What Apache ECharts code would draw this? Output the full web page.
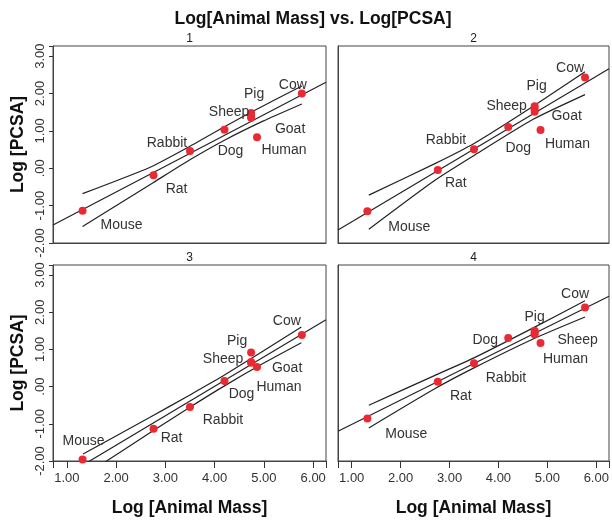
<!DOCTYPE html>
<html>
<head>
<meta charset="utf-8">
<script src="https://cdn.jsdelivr.net/npm/echarts@6/dist/echarts.min.js"></script>
<style>
  html, body { margin: 0; padding: 0; background: #fff; }
  #main { width: 612px; height: 520px; }
</style>
</head>
<body>
<div id="main"></div>
<script>
// animals and their log body mass (same in every panel)
const animals = ['Mouse', 'Rat', 'Rabbit', 'Dog', 'Sheep', 'Pig', 'Goat', 'Human', 'Cow'];
const logMass = [1.32, 2.76, 3.50, 4.20, 4.74, 4.74, 4.74, 4.86, 5.77];

// log PCSA, one array per panel
const pcsa1 = [-1.14, -0.19, 0.46, 1.03, 1.35, 1.48, 1.40, 0.83, 2.00];
const pcsa2 = [-1.15, -0.05, 0.51, 1.10, 1.51, 1.66, 1.58, 1.02, 2.43];
const pcsa3 = [-1.96, -1.13, -0.55, 0.15, 0.66, 0.92, 0.64, 0.53, 1.39];
const pcsa4 = [-0.86, 0.13, 0.63, 1.31, 1.40, 1.50, 1.45, 1.17, 2.13];

// fit line and mean confidence bands
const fit1 = [[0.72, -1.52], [6.26, 2.30]];
const upper1 = [[1.32, -0.68], [2.68, 0.02], [3.49, 0.58], [4.20, 1.11], [4.71, 1.48], [5.77, 2.20]];
const lower1 = [[1.32, -1.56], [2.76, -0.38], [3.49, 0.22], [4.20, 0.75], [4.98, 1.26], [5.77, 1.72]];

const fit2 = [[0.72, -1.65], [6.26, 2.66]];
const upper2 = [[1.35, -0.72], [2.68, 0.11], [3.51, 0.67], [4.71, 1.66], [5.77, 2.58]];
const lower2 = [[1.35, -1.63], [2.68, -0.34], [3.51, 0.35], [4.71, 1.31], [5.77, 1.97]];

const fit3 = [[0.72, -2.59], [6.26, 1.80]];
const upper3 = [[1.33, -1.81], [2.68, -0.83], [3.49, -0.23], [4.20, 0.31], [5.76, 1.60]];
const lower3 = [[1.33, -2.41], [2.68, -1.25], [3.49, -0.56], [4.20, 0.02], [4.98, 0.62], [5.76, 1.18]];

const fit4 = [[0.72, -1.20], [6.26, 2.43]];
const upper4 = [[1.35, -0.50], [2.68, 0.29], [3.51, 0.78], [4.71, 1.58], [5.77, 2.31]];
const lower4 = [[1.35, -1.11], [2.68, -0.07], [3.51, 0.51], [4.71, 1.28], [5.77, 1.87]];

// tick values and labels
const xTicks = [1, 2, 3, 4, 5, 6];
const xTickLabels = ['1.00', '2.00', '3.00', '4.00', '5.00', '6.00'];
const yTicks = [-2, -1, 0, 1, 2, 3];
const yTickLabels = ['-2.00', '-1.00', '.00', '1.00', '2.00', '3.00'];

// where each point label sits, px from its point (null = no label)
const labelPos1 = [[39, 14], [23, 14], [-23, -8], [6, 21], [-22, -6], [3, -19], [39, 13], [27, 13], [-9, -8]];
const labelPos2 = [[42, 16], [18, 13], [-28, -9], [10, 21], [-28, -6], [2, -20], [32, 7], [27, 14], [-15, -9]];
const labelPos3 = [[1, -18], [18, 9], [33, 13], [17, 13], [-28, -3], [-14, -11], [36, 5], [22, 20], [-15, -14]];
const labelPos4 = [[39, 16], [23, 14], [32, 15], [-23, 2], [43, 6], [0, -14], null, [25, 16], [-10, -13]];

const FONT = 'Liberation Sans, Arial, sans-serif';

const grids = [
    { left: 53, top: 46, width: 273, height: 197 },
    { left: 338, top: 46, width: 271, height: 197 },
    { left: 53, top: 265, width: 273, height: 196 },
    { left: 338, top: 265, width: 271, height: 196 }
];

const panels = [
    { pcsa: pcsa1, fit: fit1, up: upper1, lo: lower1, lab: labelPos1 },
    { pcsa: pcsa2, fit: fit2, up: upper2, lo: lower2, lab: labelPos2 },
    { pcsa: pcsa3, fit: fit3, up: upper3, lo: lower3, lab: labelPos3 },
    { pcsa: pcsa4, fit: fit4, up: upper4, lo: lower4, lab: labelPos4 }
];

const nameStyle = { fontSize: 17.5, fontWeight: 'bold', color: '#111', fontFamily: FONT };

const xAxes = [], yAxes = [], series = [];
panels.forEach((p, i) => {
    const showX = i >= 2;
    const showY = i % 2 === 0;
    // ticks come from the axis's own nice steps (1..6, -2..3); labels from the custom lists
    xAxes.push({
        gridIndex: i, type: 'value', min: 0.72, max: 6.26,
        axisLine: { show: true, onZero: false, lineStyle: { color: '#444' } },
        axisTick: { show: showX, length: 7, lineStyle: { color: '#333', width: 1 } },
        axisLabel: {
            show: showX, customValues: xTicks, margin: 11, fontSize: 13, color: '#333', fontFamily: FONT,
            formatter: v => xTickLabels[xTicks.indexOf(v)] || ''
        },
        splitLine: { show: false },
        name: showX ? 'Log [Animal Mass]' : '', nameLocation: 'middle', nameGap: 38, nameTextStyle: nameStyle
    });
    yAxes.push({
        gridIndex: i, type: 'value', min: -2, max: 3.27,
        axisLine: { show: true, onZero: false, lineStyle: { color: '#444' } },
        axisTick: { show: showY, length: 4, lineStyle: { color: '#333', width: 1 } },
        axisLabel: {
            show: showY, customValues: yTicks, rotate: 90, margin: 6, fontSize: 13, color: '#333', fontFamily: FONT,
            formatter: v => yTickLabels[yTicks.indexOf(v)] || ''
        },
        splitLine: { show: false },
        name: showY ? 'Log [PCSA]' : '', nameLocation: 'middle', nameGap: 26, nameRotate: 90, nameTextStyle: nameStyle
    });
    const lineStyle = { color: '#222', width: 1.2 };
    series.push(
        { type: 'line', xAxisIndex: i, yAxisIndex: i, data: p.fit, symbol: 'none', lineStyle, silent: true, z: 2 },
        { type: 'line', xAxisIndex: i, yAxisIndex: i, data: p.up, symbol: 'none', smooth: 0.2, lineStyle, silent: true, z: 2 },
        { type: 'line', xAxisIndex: i, yAxisIndex: i, data: p.lo, symbol: 'none', smooth: 0.2, lineStyle, silent: true, z: 2 },
        {
            type: 'scatter', xAxisIndex: i, yAxisIndex: i, symbolSize: 8, z: 3,
            itemStyle: { color: '#ea2a33', opacity: 1 },
            data: animals.map((name, k) => ({
                name,
                value: [logMass[k], p.pcsa[k]],
                label: p.lab[k]
                    ? { show: true, position: 'inside', offset: p.lab[k], formatter: '{b}',
                        fontSize: 14, color: '#333', fontFamily: FONT }
                    : { show: false }
            }))
        }
    );
});

const chart = echarts.init(document.getElementById('main'));
chart.setOption({
    backgroundColor: '#fff',
    animation: false,
    grid: grids.map(g => Object.assign({ show: true, borderColor: '#444', borderWidth: 1 }, g)),
    xAxis: xAxes,
    yAxis: yAxes,
    series: series,
    graphic: [
        { type: 'text', x: 313, y: 19, style: { text: 'Log[Animal Mass] vs. Log[PCSA]', align: 'center', verticalAlign: 'middle',
            fontSize: 17.5, fontWeight: 'bold', fontFamily: FONT, fill: '#111' } },
        { type: 'text', x: 189.5, y: 39, style: { text: '1', align: 'center', verticalAlign: 'middle', fontSize: 12, fontFamily: FONT, fill: '#222' } },
        { type: 'text', x: 473.5, y: 39, style: { text: '2', align: 'center', verticalAlign: 'middle', fontSize: 12, fontFamily: FONT, fill: '#222' } },
        { type: 'text', x: 189.5, y: 258, style: { text: '3', align: 'center', verticalAlign: 'middle', fontSize: 12, fontFamily: FONT, fill: '#222' } },
        { type: 'text', x: 473.5, y: 258, style: { text: '4', align: 'center', verticalAlign: 'middle', fontSize: 12, fontFamily: FONT, fill: '#222' } }
    ]
});
</script>
</body>
</html>
